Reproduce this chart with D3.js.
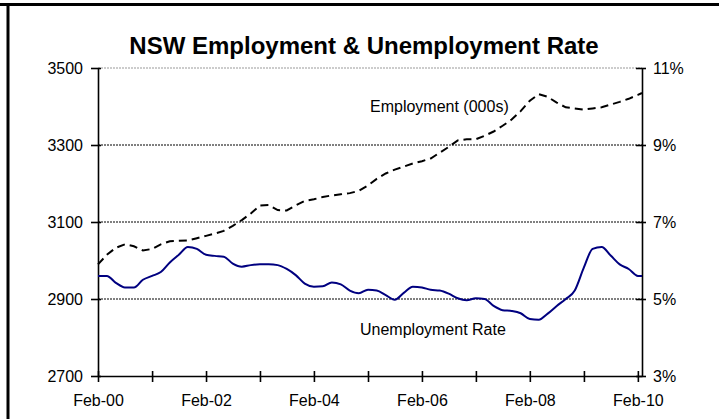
<!DOCTYPE html>
<html>
<head>
<meta charset="utf-8">
<script src="https://cdn.jsdelivr.net/npm/d3@7"></script>
<style>
  body { margin: 0; background: #fff; }
  text { font-family: "Liberation Sans", Arial, sans-serif; fill: #000; }
  .title { font-size: 24px; font-weight: bold; text-anchor: middle; }
  .tick text { font-size: 16px; font-family: "Liberation Sans", Arial, sans-serif; }
  .grid line { stroke: #000; stroke-dasharray: 2,1; }
  .series-label { font-size: 16px; }
</style>
</head>
<body>
<div id="chart"></div>
<script>
// NSW Employment & Unemployment Rate

const WIDTH = 719
const HEIGHT = 419

const MARGIN = { top: 68, bot: 43, left: 98, right: 77 }

// month of each reading
const months = [
  "2000-02", "2000-04", "2000-06", "2000-08", "2000-10", "2000-12",
  "2001-02", "2001-04", "2001-06", "2001-08", "2001-10", "2001-12",
  "2002-02", "2002-04", "2002-06", "2002-08", "2002-10", "2002-12",
  "2003-02", "2003-04", "2003-06", "2003-08", "2003-10", "2003-12",
  "2004-02", "2004-04", "2004-06", "2004-08", "2004-10", "2004-12",
  "2005-02", "2005-04", "2005-06", "2005-08", "2005-10", "2005-12",
  "2006-02", "2006-04", "2006-06", "2006-08", "2006-10", "2006-12",
  "2007-02", "2007-04", "2007-06", "2007-08", "2007-10", "2007-12",
  "2008-02", "2008-04", "2008-06", "2008-08", "2008-10", "2008-12",
  "2009-02", "2009-04", "2009-06", "2009-08", "2009-10", "2009-12",
  "2010-02", "2010-03"
]

// employed persons (000s), left axis
const employment = [
  2990, 3015, 3033, 3042, 3037, 3026,
  3030, 3042, 3050, 3051, 3052, 3058,
  3064, 3070, 3077, 3090, 3105, 3122,
  3143, 3144, 3131, 3130, 3143, 3155,
  3159, 3165, 3169, 3172, 3175, 3181,
  3195, 3212, 3226, 3236, 3244, 3252,
  3258, 3265, 3280, 3295, 3312, 3315,
  3315, 3324, 3335, 3350, 3366, 3388,
  3415, 3432, 3425, 3410, 3398, 3395,
  3392, 3395, 3398, 3405, 3412, 3420,
  3430, 3435
]

// unemployment rate (%), right axis
const unemployment = [
  5.60, 5.60, 5.42, 5.30, 5.30, 5.50,
  5.60, 5.70, 5.95, 6.15, 6.35, 6.30,
  6.15, 6.12, 6.10, 5.92, 5.84, 5.88,
  5.90, 5.90, 5.88, 5.78, 5.62, 5.40,
  5.32, 5.33, 5.43, 5.38, 5.22, 5.15,
  5.24, 5.22, 5.10, 4.98, 5.16, 5.32,
  5.30, 5.24, 5.22, 5.14, 5.02, 4.97,
  5.02, 5.00, 4.82, 4.71, 4.69, 4.63,
  4.48, 4.46, 4.62, 4.82, 5.00, 5.22,
  5.82, 6.30, 6.35, 6.13, 5.90, 5.78,
  5.60, 5.60
]

const leftTicks = [2700, 2900, 3100, 3300, 3500]
const rightTicks = [3, 5, 7, 9, 11]
const tickYears = d3.range(2000, 2011)

const parseMonth = d3.timeParse("%Y-%m")
const dates = months.map(parseMonth)

const svg = d3.select("#chart")
  .append("svg")
  .attr("width", WIDTH)
  .attr("height", HEIGHT)

// frame
svg.append("line")
  .attr("x1", 0).attr("x2", WIDTH)
  .attr("y1", 4.5).attr("y2", 4.5)
  .attr("stroke", "#000").attr("stroke-width", 3)
svg.append("line")
  .attr("x1", 8).attr("x2", 8)
  .attr("y1", 3).attr("y2", HEIGHT)
  .attr("stroke", "#000").attr("stroke-width", 3)

svg.append("text")
  .attr("class", "title")
  .attr("x", 364)
  .attr("y", 54)
  .text("NSW Employment & Unemployment Rate")

const x = d3.scaleTime()
  .domain([dates[0], dates[dates.length - 1]])
  .range([MARGIN.left, WIDTH - MARGIN.right])

const yLeft = d3.scaleLinear()
  .domain([2700, 3500])
  .range([HEIGHT - MARGIN.bot, MARGIN.top])

const yRight = d3.scaleLinear()
  .domain([3, 11])
  .range([HEIGHT - MARGIN.bot, MARGIN.top])

// grid
svg.append("g")
  .attr("class", "grid")
  .selectAll("line")
  .data(leftTicks.slice(1))
  .join("line")
  .attr("x1", MARGIN.left)
  .attr("x2", WIDTH - MARGIN.right)
  .attr("y1", d => yLeft(d))
  .attr("y2", d => yLeft(d))
  .style("stroke", d => d == 3500 ? "#999" : "#000")

// axes
const xAxis = d3.axisBottom(x)
  .tickValues(tickYears.map(yr => new Date(yr, 1, 1)))
  .tickSize(0)
  .tickPadding(19)
  .tickFormat((d, i) => i % 2 == 0 ? d3.timeFormat("%b-%y")(d) : "")

const leftAxis = d3.axisLeft(yLeft)
  .tickValues(leftTicks)
  .tickSize(0)
  .tickPadding(15)
  .tickFormat(d3.format("d"))

const rightAxis = d3.axisRight(yRight)
  .tickValues(rightTicks)
  .tickSize(0)
  .tickPadding(11)
  .tickFormat(d => d + "%")

function styleAxis(g) {
  g.select(".domain").attr("stroke", "#000").attr("stroke-width", 1.6)
}

const gx = svg.append("g")
  .attr("transform", `translate(0, ${HEIGHT - MARGIN.bot})`)
  .call(xAxis)
  .call(styleAxis)
gx.selectAll(".tick").append("line")
  .attr("y1", -5).attr("y2", 6)
  .attr("stroke", "#000").attr("stroke-width", 1.6)

const gl = svg.append("g")
  .attr("transform", `translate(${MARGIN.left}, 0)`)
  .call(leftAxis)
  .call(styleAxis)
gl.selectAll(".tick").append("line")
  .attr("x1", -7).attr("x2", 3)
  .attr("stroke", "#000").attr("stroke-width", 1.6)

const gr = svg.append("g")
  .attr("transform", `translate(${WIDTH - MARGIN.right}, 0)`)
  .call(rightAxis)
  .call(styleAxis)
gr.selectAll(".tick").append("line")
  .attr("x1", -6).attr("x2", 4)
  .attr("stroke", "#000").attr("stroke-width", 1.6)

// lines
const empLine = d3.line()
  .x((d, i) => x(dates[i]))
  .y(d => yLeft(d))

const unempLine = d3.line()
  .x((d, i) => x(dates[i]))
  .y(d => yRight(d))
  .curve(d3.curveMonotoneX)

svg.append("path")
  .attr("d", unempLine(unemployment))
  .attr("fill", "none")
  .attr("stroke", "#000080")
  .attr("stroke-width", 2)

svg.append("path")
  .attr("d", empLine(employment))
  .attr("fill", "none")
  .attr("stroke", "#000")
  .attr("stroke-width", 2)
  .attr("stroke-dasharray", "8,5")

svg.append("text")
  .attr("class", "series-label")
  .attr("x", 370)
  .attr("y", 112)
  .text("Employment (000s)")

svg.append("text")
  .attr("class", "series-label")
  .attr("x", 360)
  .attr("y", 335)
  .text("Unemployment Rate")
</script>
</body>
</html>
